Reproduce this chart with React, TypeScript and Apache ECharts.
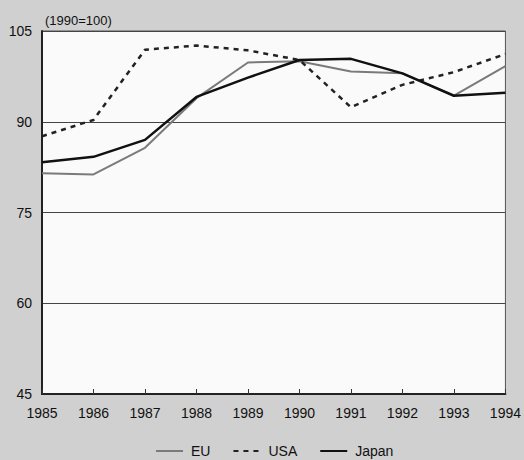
import React, { useEffect, useRef } from "react";
import * as echarts from "echarts";

const years = ["1985", "1986", "1987", "1988", "1989", "1990", "1991", "1992", "1993", "1994"];
const euValues = [81.5, 81.3, 85.7, 93.9, 99.8, 100, 98.3, 98.0, 94.3, 99.2];
const usaValues = [87.6, 90.3, 101.9, 102.6, 101.8, 100.2, 92.4, 96.1, 98.2, 101.2];
const japanValues = [83.3, 84.2, 87.0, 94.1, 97.3, 100.2, 100.4, 98.0, 94.3, 94.8];
const yMin = 45;
const yMax = 105;
const yStep = 15;
const titleText = "(1990=100)";

const FONT = "'Liberation Sans', Arial, sans-serif";

export default function App() {
  const ref = useRef<HTMLDivElement>(null);
  useEffect(() => {
    if (!ref.current) return;
    const chart = echarts.init(ref.current, null, { renderer: "svg" });
    chart.setOption({
      animation: false,
      backgroundColor: "#d0d0d0",
      textStyle: { fontFamily: FONT },
      title: {
        text: titleText,
        left: 40,
        top: 9,
        textStyle: { fontSize: 13, fontWeight: "normal", color: "#111", fontFamily: FONT },
      },
      grid: {
        left: 42,
        top: 31,
        right: 15,
        bottom: 66,
        show: true,
        backgroundColor: "#fafafa",
        borderColor: "#555",
        borderWidth: 1,
      },
      legend: {
        left: 155,
        top: 444,
        padding: 0,
        itemWidth: 27,
        itemHeight: 12,
        itemGap: 22,
        itemStyle: { opacity: 0 },
        textStyle: { fontSize: 14, color: "#111", fontFamily: FONT, padding: [0, 0, 0, 3] },
        data: ["EU", "USA", "Japan"],
      },
      xAxis: {
        type: "category",
        data: years,
        boundaryGap: false,
        axisLine: { lineStyle: { color: "#222", width: 2 } },
        axisTick: { inside: true, length: 5, lineStyle: { color: "#333" } },
        axisLabel: { fontSize: 14, color: "#111", margin: 12, fontFamily: FONT },
        splitLine: { show: false },
      },
      yAxis: {
        type: "value",
        min: yMin,
        max: yMax,
        interval: yStep,
        axisLine: { show: true, lineStyle: { color: "#222", width: 2 } },
        axisTick: { show: false },
        axisLabel: { fontSize: 14, color: "#111", margin: 10, fontFamily: FONT },
        splitLine: { show: true, lineStyle: { color: "#444", width: 1 } },
      },
      series: [
        {
          name: "EU",
          type: "line",
          data: euValues,
          symbol: "none",
          lineStyle: { color: "#7a7a7a", width: 2 },
          itemStyle: { color: "#7a7a7a" },
        },
        {
          name: "USA",
          type: "line",
          data: usaValues,
          symbol: "none",
          lineStyle: { color: "#222", width: 2.5, type: [5, 5] },
          itemStyle: { color: "#222" },
        },
        {
          name: "Japan",
          type: "line",
          data: japanValues,
          symbol: "none",
          lineStyle: { color: "#111", width: 2.5 },
          itemStyle: { color: "#111" },
        },
      ],
    });
    return () => chart.dispose();
  }, []);
  return (
    <div
      ref={ref}
      style={{ position: "absolute", left: 0, top: 0, width: 524, height: 460 }}
    />
  );
}
